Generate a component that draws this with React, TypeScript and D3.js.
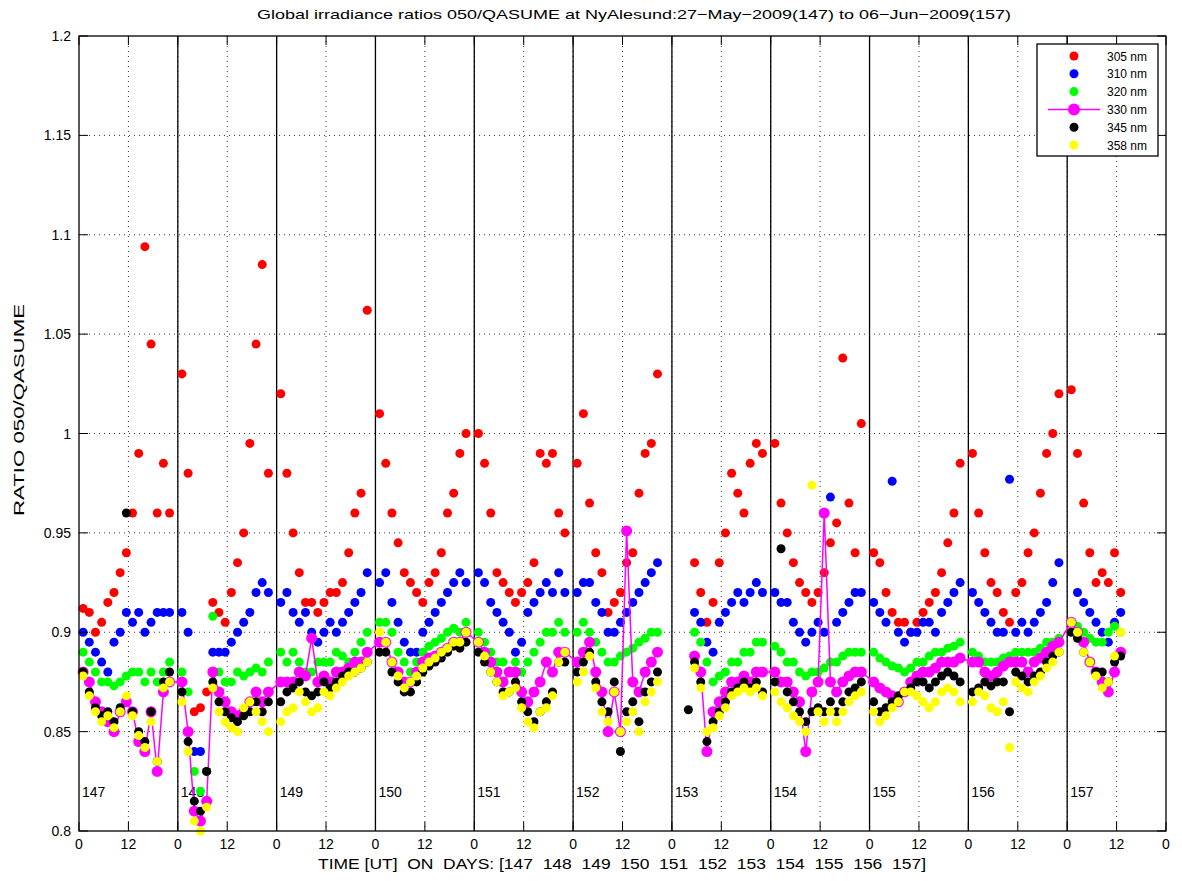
import React from "react";
import * as d3 from "d3";

const days = [147, 148, 149, 150, 151, 152, 153, 154, 155, 156, 157];
const sampleHours = [1, 2.5, 4, 5.5, 7, 8.5, 10, 11.5, 13, 14.5, 16, 17.5, 19, 20.5, 22];
const N = null;

const r305 = [
  0.912, 0.91, 0.9, 0.905, 0.915, 0.92, 0.93, 0.94, 0.96, 0.99, 1.094, 1.045, 0.96, 0.985, 0.96,
  1.03, 0.98, 0.86, 0.862, 0.87, 0.915, 0.91, 0.905, 0.92, 0.935, 0.95, 0.995, 1.045, 1.085, 0.98,
  1.02, 0.98, 0.95, 0.93, 0.915, 0.915, 0.91, 0.915, 0.92, 0.92, 0.925, 0.94, 0.96, 0.97, 1.062,
  1.01, 0.985, 0.96, 0.945, 0.93, 0.925, 0.92, 0.915, 0.925, 0.93, 0.94, 0.96, 0.97, 0.99, 1.0,
  1.0, 0.985, 0.96, 0.93, 0.925, 0.92, 0.915, 0.92, 0.925, 0.935, 0.99, 0.985, 0.99, 0.96, 0.95,
  0.985, 1.01, 0.965, 0.94, 0.93, 0.91, 0.915, 0.92, 0.935, 0.94, 0.97, 0.99, 0.995, 1.03, N,
  N, N, N, 0.935, 0.92, 0.905, 0.915, 0.935, 0.95, 0.98, 0.97, 0.96, 0.985, 0.995, 0.99,
  0.995, 0.965, 0.95, 0.935, 0.925, 0.92, 0.915, 0.92, 0.93, 0.945, 0.955, 1.038, 0.965, 0.94, 1.005,
  0.94, 0.935, 0.92, 0.91, 0.905, 0.905, 0.9, 0.905, 0.91, 0.915, 0.92, 0.93, 0.945, 0.96, 0.985,
  0.99, 0.96, 0.94, 0.925, 0.92, 0.91, 0.905, 0.92, 0.925, 0.94, 0.95, 0.97, 0.99, 1.0, 1.02,
  1.022, 0.99, 0.965, 0.94, 0.925, 0.93, 0.925, 0.94, 0.92, N, N, N, N, N, N,
];
const r310 = [
  0.9, 0.895, 0.89, 0.885, 0.88, 0.895, 0.9, 0.91, 0.905, 0.91, 0.9, 0.905, 0.91, 0.91, 0.91,
  0.91, 0.9, 0.84, 0.84, 0.83, 0.89, 0.89, 0.89, 0.895, 0.9, 0.905, 0.91, 0.92, 0.925, 0.92,
  0.915, 0.92, 0.91, 0.905, 0.91, 0.9, 0.895, 0.9, 0.905, 0.9, 0.905, 0.91, 0.915, 0.92, 0.93,
  0.925, 0.93, 0.915, 0.905, 0.895, 0.89, 0.89, 0.9, 0.905, 0.91, 0.915, 0.92, 0.925, 0.93, 0.925,
  0.93, 0.925, 0.915, 0.91, 0.905, 0.9, 0.89, 0.895, 0.91, 0.915, 0.92, 0.925, 0.92, 0.93, 0.92,
  0.92, 0.925, 0.925, 0.915, 0.91, 0.9, 0.9, 0.905, 0.91, 0.915, 0.92, 0.925, 0.93, 0.935, N,
  N, N, N, 0.91, 0.905, 0.895, 0.89, 0.905, 0.91, 0.915, 0.92, 0.915, 0.92, 0.925, 0.92,
  0.92, 0.915, 0.915, 0.905, 0.9, 0.895, 0.9, 0.905, 0.9, 0.968, 0.905, 0.91, 0.915, 0.92, 0.92,
  0.915, 0.91, 0.905, 0.976, 0.9, 0.895, 0.9, 0.9, 0.905, 0.905, 0.9, 0.91, 0.915, 0.92, 0.925,
  0.92, 0.915, 0.91, 0.905, 0.9, 0.9, 0.977, 0.9, 0.905, 0.9, 0.905, 0.91, 0.915, 0.925, 0.935,
  0.905, 0.92, 0.915, 0.91, 0.905, 0.9, 0.895, 0.905, 0.91, N, N, N, N, N, N,
];
const r320 = [
  0.89, 0.885, 0.88, 0.875, 0.875, 0.873, 0.875, 0.878, 0.88, 0.88, 0.875, 0.88, 0.875, 0.88, 0.885,
  0.88, 0.87, 0.83, 0.82, 0.83, 0.908, 0.88, 0.875, 0.875, 0.88, 0.878, 0.88, 0.882, 0.88, 0.885,
  0.89, 0.885, 0.89, 0.885, 0.88, 0.88, 0.885, 0.885, 0.885, 0.89, 0.888, 0.885, 0.89, 0.895, 0.9,
  0.905, 0.905, 0.9, 0.89, 0.885, 0.88, 0.885, 0.89, 0.893, 0.895, 0.897, 0.9, 0.902, 0.9, 0.905,
  0.9, 0.895, 0.89, 0.885, 0.885, 0.88, 0.885, 0.88, 0.885, 0.89, 0.895, 0.9, 0.9, 0.905, 0.9,
  0.9, 0.905, 0.9, 0.895, 0.89, 0.885, 0.885, 0.888, 0.89, 0.892, 0.895, 0.897, 0.9, 0.9, N,
  N, N, N, 0.9, 0.895, 0.885, 0.875, 0.878, 0.88, 0.885, 0.885, 0.89, 0.89, 0.895, 0.895,
  0.893, 0.89, 0.885, 0.885, 0.88, 0.878, 0.88, 0.88, 0.882, 0.885, 0.885, 0.888, 0.89, 0.89, 0.89,
  0.89, 0.887, 0.885, 0.883, 0.882, 0.88, 0.882, 0.885, 0.885, 0.888, 0.89, 0.89, 0.892, 0.893, 0.895,
  0.89, 0.888, 0.885, 0.885, 0.885, 0.887, 0.888, 0.89, 0.89, 0.89, 0.89, 0.892, 0.895, 0.895, 0.897,
  0.905, 0.903, 0.9, 0.897, 0.895, 0.895, 0.9, 0.903, 0.9, N, N, N, N, N, N,
];
const r330 = [
  0.88, 0.875, 0.865, 0.86, 0.855, 0.85, 0.86, 0.865, 0.86, 0.845, 0.84, 0.86, 0.83, 0.87, 0.875,
  0.875, 0.85, 0.81, 0.805, 0.815, 0.88, 0.87, 0.865, 0.86, 0.858, 0.86, 0.865, 0.87, 0.865, 0.87,
  0.875, 0.875, 0.875, 0.88, 0.878, 0.897, 0.875, 0.878, 0.875, 0.88, 0.88, 0.882, 0.885, 0.885, 0.89,
  0.895, 0.895, 0.885, 0.88, 0.875, 0.875, 0.88, 0.885, 0.887, 0.888, 0.89, 0.892, 0.895, 0.895, 0.9,
  0.895, 0.89, 0.885, 0.88, 0.875, 0.88, 0.88, 0.87, 0.865, 0.87, 0.875, 0.885, 0.88, 0.89, 0.89,
  0.885, 0.89, 0.895, 0.88, 0.87, 0.85, 0.87, 0.85, 0.951, 0.875, 0.87, 0.88, 0.885, 0.89, N,
  N, N, N, 0.888, 0.88, 0.84, 0.86, 0.865, 0.87, 0.875, 0.875, 0.878, 0.875, 0.88, 0.88,
  0.88, 0.875, 0.875, 0.87, 0.865, 0.84, 0.87, 0.875, 0.96, 0.875, 0.87, 0.875, 0.878, 0.88, 0.88,
  0.875, 0.872, 0.87, 0.868, 0.865, 0.87, 0.875, 0.878, 0.88, 0.88, 0.882, 0.885, 0.885, 0.885, 0.887,
  0.885, 0.885, 0.88, 0.878, 0.88, 0.883, 0.885, 0.885, 0.885, 0.88, 0.885, 0.887, 0.89, 0.893, 0.895,
  0.905, 0.9, 0.895, 0.885, 0.88, 0.875, 0.87, 0.88, 0.89, N, N, N, N, N, N,
];
const r345 = [
  0.88, 0.87, 0.862, 0.858, 0.86, 0.855, 0.862, 0.96, 0.86, 0.85, 0.845, 0.86, 0.835, 0.875, 0.88,
  0.87, 0.845, 0.815, 0.81, 0.83, 0.875, 0.865, 0.86, 0.857, 0.855, 0.858, 0.86, 0.865, 0.86, 0.865,
  0.865, 0.87, 0.872, 0.875, 0.87, 0.868, 0.87, 0.875, 0.872, 0.875, 0.878, 0.88, 0.88, 0.882, 0.885,
  0.89, 0.89, 0.88, 0.875, 0.87, 0.87, 0.875, 0.88, 0.883, 0.885, 0.887, 0.89, 0.893, 0.892, 0.895,
  0.89, 0.885, 0.88, 0.875, 0.87, 0.87, 0.875, 0.865, 0.86, 0.855, 0.86, 0.865, 0.87, 0.885, 0.885,
  0.88, 0.885, 0.89, 0.875, 0.865, 0.86, 0.875, 0.84, 0.86, 0.865, 0.855, 0.87, 0.875, 0.88, N,
  N, N, 0.861, 0.885, 0.875, 0.845, 0.855, 0.86, 0.865, 0.87, 0.872, 0.875, 0.872, 0.875, 0.87,
  0.875, 0.942, 0.87, 0.865, 0.86, 0.855, 0.86, 0.862, 0.86, 0.865, 0.86, 0.865, 0.87, 0.872, 0.875,
  0.865, 0.86, 0.862, 0.865, 0.868, 0.87, 0.872, 0.875, 0.875, 0.872, 0.875, 0.878, 0.88, 0.878, 0.875,
  0.87, 0.872, 0.875, 0.873, 0.875, 0.875, 0.86, 0.88, 0.878, 0.875, 0.878, 0.88, 0.885, 0.888, 0.89,
  0.9, 0.897, 0.89, 0.885, 0.88, 0.88, 0.875, 0.885, 0.888, N, N, N, N, N, N,
];
const r358 = [
  0.878, 0.868, 0.86, 0.855, 0.858, 0.852, 0.86, 0.868, 0.858, 0.848, 0.842, 0.855, 0.835, 0.872, 0.875,
  0.865, 0.84, 0.805, 0.8, 0.812, 0.872, 0.86, 0.855, 0.852, 0.85, 0.862, 0.865, 0.86, 0.855, 0.85,
  0.855, 0.86, 0.862, 0.87, 0.865, 0.86, 0.862, 0.87, 0.868, 0.872, 0.875, 0.878, 0.88, 0.882, 0.885,
  0.9, 0.895, 0.885, 0.878, 0.872, 0.875, 0.878, 0.882, 0.885, 0.887, 0.89, 0.892, 0.895, 0.895, 0.9,
  0.895, 0.888, 0.88, 0.875, 0.868, 0.87, 0.872, 0.862, 0.855, 0.852, 0.86, 0.862, 0.868, 0.885, 0.89,
  0.875, 0.88, 0.888, 0.872, 0.86, 0.855, 0.87, 0.85, 0.855, 0.86, 0.85, 0.865, 0.87, 0.875, N,
  N, N, N, 0.882, 0.872, 0.85, 0.852, 0.858, 0.862, 0.868, 0.87, 0.872, 0.87, 0.872, 0.868,
  0.87, 0.865, 0.862, 0.858, 0.855, 0.85, 0.974, 0.86, 0.855, 0.86, 0.855, 0.86, 0.865, 0.868, 0.87,
  0.86, 0.855, 0.858, 0.862, 0.865, 0.87, 0.87, 0.868, 0.865, 0.862, 0.865, 0.87, 0.872, 0.87, 0.865,
  0.865, 0.87, 0.868, 0.862, 0.86, 0.865, 0.842, 0.875, 0.872, 0.87, 0.875, 0.878, 0.882, 0.885, 0.89,
  0.905, 0.9, 0.89, 0.885, 0.878, 0.872, 0.875, 0.888, 0.9, N, N, N, N, N, N,
];

const series = [
  { name: "305 nm", color: "#ff0000", values: r305 },
  { name: "310 nm", color: "#0000ff", values: r310 },
  { name: "320 nm", color: "#00ff00", values: r320 },
  { name: "330 nm", color: "#ff00ff", values: r330, line: true },
  { name: "345 nm", color: "#000000", values: r345 },
  { name: "358 nm", color: "#ffff00", values: r358 },
];

const yTicks = [0.8, 0.85, 0.9, 0.95, 1, 1.05, 1.1, 1.15, 1.2];
const title = "Global irradiance ratios 050/QASUME at NyAlesund:27\u2212May\u22122009(147) to 06\u2212Jun\u22122009(157)";

const times: number[] = [];
days.forEach((d) => sampleHours.forEach((h) => times.push(d + h / 24)));

export default function App() {
  const W = 1182, H = 881;
  const L = 79, R = 1166, T = 36, B = 831;
  const x = d3.scaleLinear().domain([147, 158]).range([L, R]);
  const y = d3.scaleLinear().domain([0.8, 1.2]).range([B, T]);
  const xTicks = d3.range(147, 158.01, 0.5);
  const font = "Helvetica, Arial, 'Liberation Sans', sans-serif";

  const pts = (vals: (number | null)[]) =>
    vals.map((v, i) => ({ t: times[i], v })).filter((p) => p.v != null) as { t: number; v: number }[];

  const line = d3
    .line<{ t: number; v: number | null }>()
    .defined((p) => p.v != null)
    .x((p) => x(p.t))
    .y((p) => y(p.v as number));

  return (
    <svg width={W} height={H} style={{ display: "block", margin: -8, background: "#fff" }} fontFamily={font}>
      <rect x={0} y={0} width={W} height={H} fill="#fff" />
      {/* grid */}
      {xTicks.slice(1, -1).map((t) => (
        <line key={"gx" + t} x1={x(t)} x2={x(t)} y1={T} y2={B} stroke="#000" strokeWidth={0.8} strokeDasharray="1 4" />
      ))}
      {yTicks.slice(1, -1).map((t) => (
        <line key={"gy" + t} x1={L} x2={R} y1={y(t)} y2={y(t)} stroke="#000" strokeWidth={0.8} strokeDasharray="1 4" />
      ))}
      {/* day boundaries */}
      {days.slice(1).map((d) => (
        <line key={"d" + d} x1={x(d)} x2={x(d)} y1={T} y2={B} stroke="#000" strokeWidth={1.3} />
      ))}
      {days.map((d) => (
        <text key={"dl" + d} x={x(d) + 3} y={797} fontSize={14}>{d}</text>
      ))}
      {/* series */}
      {series.map((s) => (
        <g key={s.name}>
          {s.line && (
            <path
              d={line(s.values.map((v, i) => ({ t: times[i], v }))) || ""}
              fill="none"
              stroke={s.color}
              strokeWidth={1.5}
            />
          )}
          {pts(s.values).map((p, i) => (
            <circle key={i} cx={x(p.t)} cy={y(p.v)} r={s.line ? 5.5 : 4.5} fill={s.color} />
          ))}
        </g>
      ))}
      {/* frame and ticks */}
      <rect x={L} y={T} width={R - L} height={B - T} fill="none" stroke="#000" strokeWidth={1.3} />
      {xTicks.map((t) => (
        <g key={"tx" + t}>
          <line x1={x(t)} x2={x(t)} y1={B} y2={B - 9} stroke="#000" />
          <line x1={x(t)} x2={x(t)} y1={T} y2={T + 9} stroke="#000" />
          <text x={x(t)} y={B + 18} fontSize={14} textAnchor="middle">
            {Math.round((t % 1) * 24) === 12 ? "12" : "0"}
          </text>
        </g>
      ))}
      {yTicks.map((t) => (
        <g key={"ty" + t}>
          <line x1={L} x2={L + 9} y1={y(t)} y2={y(t)} stroke="#000" />
          <line x1={R} x2={R - 9} y1={y(t)} y2={y(t)} stroke="#000" />
          <text x={L - 8} y={y(t) + 5} fontSize={14} textAnchor="end">{d3.format("~g")(t)}</text>
        </g>
      ))}
      <text x={634} y={19} fontSize={13} textAnchor="middle" textLength={754} lengthAdjust="spacingAndGlyphs">{title}</text>
      <text x={622} y={869} fontSize={14.5} textAnchor="middle" textLength={608} lengthAdjust="spacingAndGlyphs" style={{ whiteSpace: "pre" }}>
        {"TIME [UT]  ON  DAYS: [147  148  149  150  151  152  153  154  155  156  157]"}
      </text>
      <text transform="translate(24, 410) rotate(-90)" fontSize={14} textAnchor="middle" textLength={212} lengthAdjust="spacingAndGlyphs">
        RATIO 050/QASUME
      </text>
      {/* legend */}
      <rect x={1037} y={44} width={121} height={112} fill="#fff" stroke="#000" strokeWidth={1.3} />
      {series.map((s, i) => {
        const ly = 56 + i * 17.8;
        return (
          <g key={"lg" + s.name}>
            {s.line && <line x1={1048} x2={1100} y1={ly} y2={ly} stroke={s.color} strokeWidth={1.5} />}
            <circle cx={1074} cy={ly} r={s.line ? 6 : 4.5} fill={s.color} />
            <text x={1107} y={ly + 4.5} fontSize={12}>{s.name}</text>
          </g>
        );
      })}
    </svg>
  );
}
